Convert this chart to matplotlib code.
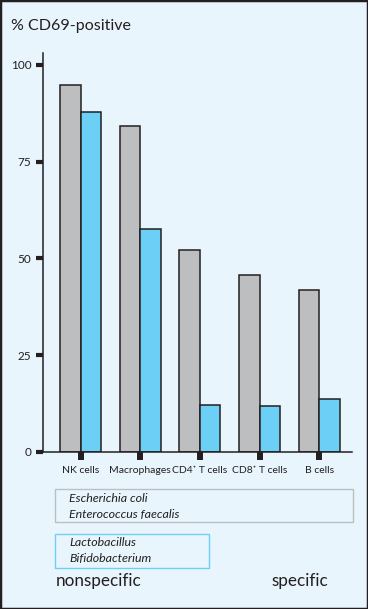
import matplotlib
matplotlib.use("Agg")
import matplotlib.pyplot as plt
from matplotlib.patches import Rectangle
import numpy as np

plt.rcParams['font.family'] = ['Lato', 'DejaVu Sans']

categories = ["NK cells", "Macrophages", "CD4\u207a T cells", "CD8\u207a T cells", "B cells"]
nonspecific_vals = [94.8, 84.2, 52.1, 45.7, 41.8]   # E. coli / E. faecalis (gray)
specific_vals = [87.8, 57.6, 12.1, 11.9, 13.6]      # Lactobacillus / Bifidobacterium (blue)
yticks = [0, 25, 50, 75, 100]
ylabel = "% CD69-positive"
gray_box_lines = ["Escherichia coli", "Enterococcus faecalis"]
blue_box_lines = ["Lactobacillus", "Bifidobacterium"]

BG = "#E8F5FD"
GRAY = "#BCBEC0"
BLUE = "#6CCFF6"
DARK = "#231F20"

W, H = 368, 609
fig = plt.figure(figsize=(W / 100, H / 100), dpi=100, facecolor=BG)

def fx(px):
    return px / W

def fy(py):
    return 1 - py / H

# axes from pixel box: left 43, right 352, top 53, bottom 452
ax = fig.add_axes([fx(43), fy(452), fx(352) - fx(43), fy(53) - fy(452)])
ax.set_facecolor("none")

x = np.arange(len(categories))
bw = 0.345
ax.bar(x - bw / 2, nonspecific_vals, width=bw, color=GRAY, edgecolor=DARK, linewidth=1.1)
ax.bar(x + bw / 2, specific_vals, width=bw, color=BLUE, edgecolor=DARK, linewidth=1.1)

ax.set_xlim(-0.63, 4.55)
ax.set_ylim(0, 103.1)
ax.set_yticks(yticks)
ax.set_yticklabels([str(v) for v in yticks], fontsize=8.5, color=DARK)
ax.set_xticks(x)
ax.set_xticklabels(categories, fontsize=7.5, color=DARK)
ax.tick_params(axis='y', direction='out', length=5, width=3, color=DARK, pad=3.5)
ax.tick_params(axis='x', direction='out', length=6, width=4.3, color=DARK, pad=4)
for s in ['top', 'right']:
    ax.spines[s].set_visible(False)
for s in ['left', 'bottom']:
    ax.spines[s].set_linewidth(1.1)
    ax.spines[s].set_color(DARK)

fig.text(fx(11), fy(26), ylabel, fontsize=11.5, color=DARK, va='center', ha='left')

# legend boxes
fig.add_artist(Rectangle((fx(55), fy(522)), fx(353) - fx(55), fy(489) - fy(522),
                         transform=fig.transFigure, fill=False, edgecolor=GRAY, linewidth=1.0))
fig.add_artist(Rectangle((fx(55), fy(568)), fx(209) - fx(55), fy(534) - fy(568),
                         transform=fig.transFigure, fill=False, edgecolor=BLUE, linewidth=1.0))
fs_it = 8.9
fig.text(fx(69), fy(498.5), gray_box_lines[0], fontsize=fs_it, style='italic', color=DARK, va='center')
fig.text(fx(69), fy(514.5), gray_box_lines[1], fontsize=fs_it, style='italic', color=DARK, va='center')
fig.text(fx(69), fy(542.5), blue_box_lines[0], fontsize=fs_it, style='italic', color=DARK, va='center')
fig.text(fx(69), fy(558.5), blue_box_lines[1], fontsize=fs_it, style='italic', color=DARK, va='center')

fig.text(fx(56), fy(581), "nonspecific", fontsize=12.3, color=DARK, va='center', ha='left')
fig.text(fx(328), fy(581), "specific", fontsize=12.3, color=DARK, va='center', ha='right')

# figure border
fig.add_artist(Rectangle((0, 0), 1, 1, transform=fig.transFigure, fill=False,
                         edgecolor=DARK, linewidth=2.5))

fig.savefig("out.png", dpi=100, facecolor=BG)
